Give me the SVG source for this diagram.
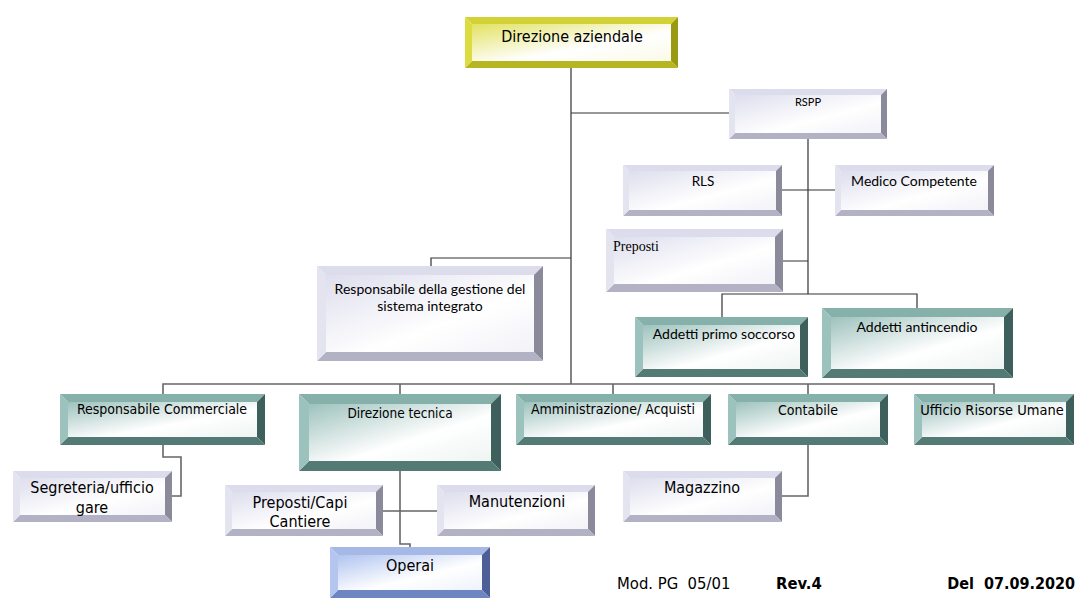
<svg xmlns="http://www.w3.org/2000/svg" width="1087" height="615" viewBox="0 0 1087 615">
<style>
.t{font-family:"DejaVu Sans Condensed","DejaVu Sans",sans-serif;fill:#000;text-anchor:middle}
.c{font-family:Lato,"Liberation Sans",sans-serif;fill:#000;text-anchor:middle}
.s{font-family:"Liberation Serif",serif;fill:#000}
.ln{fill:none;stroke:#333;stroke-width:1.2}
.lg{fill:none;stroke:#666;stroke-width:1.6}
.yT{fill:#d2d236}.yL{fill:#dcdc40}.yR{fill:#9a9a12}.yB{fill:#b6b622}.yF{fill:url(#gy)}
.lT{fill:#dcdcec}.lL{fill:#e4e4f0}.lR{fill:#8a8a9a}.lB{fill:#b2b2c4}.lF{fill:url(#gl)}
.gT{fill:#86b0aa}.gL{fill:#9cc2bd}.gR{fill:#3d605c}.gB{fill:#547a76}.gF{fill:url(#gg)}
.bT{fill:#a6b8e6}.bL{fill:#b4c6f0}.bR{fill:#4c5f96}.bB{fill:#6d85c0}.bF{fill:url(#gb)}
</style>
<defs>
<linearGradient id="gy" x1="0" y1="0" x2="1" y2="1"><stop offset="0" stop-color="#e2e262"/><stop offset="0.6" stop-color="#fff"/><stop offset="1" stop-color="#fafae8"/></linearGradient>
<linearGradient id="gl" x1="0" y1="0" x2="1" y2="1"><stop offset="0" stop-color="#dedeee"/><stop offset="0.6" stop-color="#fff"/><stop offset="1" stop-color="#f2f2f8"/></linearGradient>
<linearGradient id="gg" x1="0" y1="0" x2="1" y2="1"><stop offset="0" stop-color="#9ec2bd"/><stop offset="0.6" stop-color="#fff"/><stop offset="1" stop-color="#eef4f3"/></linearGradient>
<linearGradient id="gb" x1="0" y1="0" x2="1" y2="1"><stop offset="0" stop-color="#b0c4f0"/><stop offset="0.6" stop-color="#fff"/><stop offset="1" stop-color="#eef2fc"/></linearGradient>
</defs>
<rect width="1087" height="615" fill="#fff"/>
<g id="connectors">
<path class="ln" d="M571,68V384M571,113H729M808,139V294M782,190H835M783,261H808M722,317V294H917V308M431,266V258H571"/>
<path class="lg" d="M163,394V384H994V394M400,384V394M613,384V394M808,384V394M163,445V457H181V496H172M400,471V544H410V547M383,511H437M808,445V496H782"/>
</g>
<g id="direzione-aziendale">
<rect class="yF" x="472" y="24" width="199" height="37"/>
<polygon class="yT" points="465,17 678,17 671,24 472,24"/>
<polygon class="yR" points="678,17 678,68 671,61 671,24"/>
<polygon class="yB" points="465,68 678,68 671,61 472,61"/>
<polygon class="yL" points="465,17 472,24 472,61 465,68"/>
<text class="t" x="572" y="42" font-size="16">Direzione aziendale</text>
</g>
<g id="rspp">
<rect class="lF" x="735" y="95" width="146" height="38"/>
<polygon class="lT" points="729,89 887,89 881,95 735,95"/>
<polygon class="lR" points="887,89 887,139 881,133 881,95"/>
<polygon class="lB" points="729,139 887,139 881,133 735,133"/>
<polygon class="lL" points="729,89 735,95 735,133 729,139"/>
<text class="c" x="808" y="106" font-size="11">RSPP</text>
</g>
<g id="rls">
<rect class="lF" x="629" y="171" width="147" height="39"/>
<polygon class="lT" points="623,165 782,165 776,171 629,171"/>
<polygon class="lR" points="782,165 782,216 776,210 776,171"/>
<polygon class="lB" points="623,216 782,216 776,210 629,210"/>
<polygon class="lL" points="623,165 629,171 629,210 623,216"/>
<text class="c" x="703" y="186" font-size="13.5">RLS</text>
</g>
<g id="medico-competente">
<rect class="lF" x="841" y="171" width="147" height="39"/>
<polygon class="lT" points="835,165 994,165 988,171 841,171"/>
<polygon class="lR" points="994,165 994,216 988,210 988,171"/>
<polygon class="lB" points="835,216 994,216 988,210 841,210"/>
<polygon class="lL" points="835,165 841,171 841,210 835,216"/>
<text class="c" x="914" y="186" font-size="14">Medico Competente</text>
</g>
<g id="preposti">
<rect class="lF" x="614" y="237" width="161" height="47"/>
<polygon class="lT" points="606,229 783,229 775,237 614,237"/>
<polygon class="lR" points="783,229 783,292 775,284 775,237"/>
<polygon class="lB" points="606,292 783,292 775,284 614,284"/>
<polygon class="lL" points="606,229 614,237 614,284 606,292"/>
<text class="s" x="613" y="251" font-size="14">Preposti</text>
</g>
<g id="addetti-primo-soccorso">
<rect class="gF" x="643" y="325" width="157" height="44"/>
<polygon class="gT" points="635,317 808,317 800,325 643,325"/>
<polygon class="gR" points="808,317 808,377 800,369 800,325"/>
<polygon class="gB" points="635,377 808,377 800,369 643,369"/>
<polygon class="gL" points="635,317 643,325 643,369 635,377"/>
<text class="c" x="724" y="339" font-size="14">Addetti primo soccorso</text>
</g>
<g id="addetti-antincendio">
<rect class="gF" x="831" y="317" width="173" height="52"/>
<polygon class="gT" points="822,308 1013,308 1004,317 831,317"/>
<polygon class="gR" points="1013,308 1013,378 1004,369 1004,317"/>
<polygon class="gB" points="822,378 1013,378 1004,369 831,369"/>
<polygon class="gL" points="822,308 831,317 831,369 822,378"/>
<text class="c" x="917" y="332" font-size="14">Addetti antincendio</text>
</g>
<g id="responsabile-gestione">
<rect class="lF" x="326" y="275" width="208" height="77"/>
<polygon class="lT" points="317,266 543,266 534,275 326,275"/>
<polygon class="lR" points="543,266 543,361 534,352 534,275"/>
<polygon class="lB" points="317,361 543,361 534,352 326,352"/>
<polygon class="lL" points="317,266 326,275 326,352 317,361"/>
<text class="c" x="430" y="294" font-size="14">Responsabile della gestione del</text>
<text class="c" x="430" y="311" font-size="14">sistema integrato</text>
</g>
<g id="responsabile-commerciale">
<rect class="gF" x="68" y="402" width="189" height="35"/>
<polygon class="gT" points="60,394 265,394 257,402 68,402"/>
<polygon class="gR" points="265,394 265,445 257,437 257,402"/>
<polygon class="gB" points="60,445 265,445 257,437 68,437"/>
<polygon class="gL" points="60,394 68,402 68,437 60,445"/>
<text class="t" x="162" y="414" font-size="14">Responsabile Commerciale</text>
</g>
<g id="direzione-tecnica">
<rect class="gF" x="309" y="404" width="182" height="57"/>
<polygon class="gT" points="299,394 501,394 491,404 309,404"/>
<polygon class="gR" points="501,394 501,471 491,461 491,404"/>
<polygon class="gB" points="299,471 501,471 491,461 309,461"/>
<polygon class="gL" points="299,394 309,404 309,461 299,471"/>
<text class="t" x="400" y="418" font-size="13.5">Direzione tecnica</text>
</g>
<g id="amministrazione">
<rect class="gF" x="524" y="402" width="179" height="35"/>
<polygon class="gT" points="516,394 711,394 703,402 524,402"/>
<polygon class="gR" points="711,394 711,445 703,437 703,402"/>
<polygon class="gB" points="516,445 711,445 703,437 524,437"/>
<polygon class="gL" points="516,394 524,402 524,437 516,445"/>
<text class="t" x="613" y="414" font-size="14">Amministrazione/ Acquisti</text>
</g>
<g id="contabile">
<rect class="gF" x="736" y="402" width="144" height="35"/>
<polygon class="gT" points="728,394 888,394 880,402 736,402"/>
<polygon class="gR" points="888,394 888,445 880,437 880,402"/>
<polygon class="gB" points="728,445 888,445 880,437 736,437"/>
<polygon class="gL" points="728,394 736,402 736,437 728,445"/>
<text class="t" x="808" y="415" font-size="14">Contabile</text>
</g>
<g id="ufficio-risorse-umane">
<rect class="gF" x="922" y="402" width="144" height="35"/>
<polygon class="gT" points="914,394 1074,394 1066,402 922,402"/>
<polygon class="gR" points="1074,394 1074,445 1066,437 1066,402"/>
<polygon class="gB" points="914,445 1074,445 1066,437 922,437"/>
<polygon class="gL" points="914,394 922,402 922,437 914,445"/>
<text class="t" x="992" y="415" font-size="14.5">Ufficio Risorse Umane</text>
</g>
<g id="segreteria">
<rect class="lF" x="20" y="478" width="145" height="37"/>
<polygon class="lT" points="13,471 172,471 165,478 20,478"/>
<polygon class="lR" points="172,471 172,522 165,515 165,478"/>
<polygon class="lB" points="13,522 172,522 165,515 20,515"/>
<polygon class="lL" points="13,471 20,478 20,515 13,522"/>
<text class="t" x="92" y="493" font-size="16">Segreteria/ufficio</text>
<text class="t" x="92" y="513" font-size="16">gare</text>
</g>
<g id="preposti-capi-cantiere">
<rect class="lF" x="232" y="492" width="144" height="37"/>
<polygon class="lT" points="225,485 383,485 376,492 232,492"/>
<polygon class="lR" points="383,485 383,536 376,529 376,492"/>
<polygon class="lB" points="225,536 383,536 376,529 232,529"/>
<polygon class="lL" points="225,485 232,492 232,529 225,536"/>
<text class="t" x="300" y="508" font-size="16">Preposti/Capi</text>
<text class="t" x="300" y="527" font-size="16">Cantiere</text>
</g>
<g id="manutenzioni">
<rect class="lF" x="444" y="492" width="144" height="37"/>
<polygon class="lT" points="437,485 595,485 588,492 444,492"/>
<polygon class="lR" points="595,485 595,536 588,529 588,492"/>
<polygon class="lB" points="437,536 595,536 588,529 444,529"/>
<polygon class="lL" points="437,485 444,492 444,529 437,536"/>
<text class="t" x="517" y="507" font-size="16">Manutenzioni</text>
</g>
<g id="operai">
<rect class="bF" x="338" y="555" width="144" height="35"/>
<polygon class="bT" points="330,547 490,547 482,555 338,555"/>
<polygon class="bR" points="490,547 490,598 482,590 482,555"/>
<polygon class="bB" points="330,598 490,598 482,590 338,590"/>
<polygon class="bL" points="330,547 338,555 338,590 330,598"/>
<text class="t" x="410" y="571" font-size="16">Operai</text>
</g>
<g id="magazzino">
<rect class="lF" x="630" y="478" width="145" height="37"/>
<polygon class="lT" points="623,471 782,471 775,478 630,478"/>
<polygon class="lR" points="782,471 782,522 775,515 775,478"/>
<polygon class="lB" points="623,522 782,522 775,515 630,515"/>
<polygon class="lL" points="623,471 630,478 630,515 623,522"/>
<text class="t" x="702" y="493" font-size="16">Magazzino</text>
</g>
<g id="footer">
<text class="t" x="617" y="589" font-size="16.5" style="text-anchor:start" xml:space="preserve">Mod. PG  05/01</text>
<text class="t" x="776" y="589" font-size="16.5" font-weight="bold" style="text-anchor:start">Rev.4</text>
<text class="t" x="1075" y="589" font-size="16" font-weight="bold" style="text-anchor:end" xml:space="preserve">Del  07.09.2020</text>
</g>
</svg>
